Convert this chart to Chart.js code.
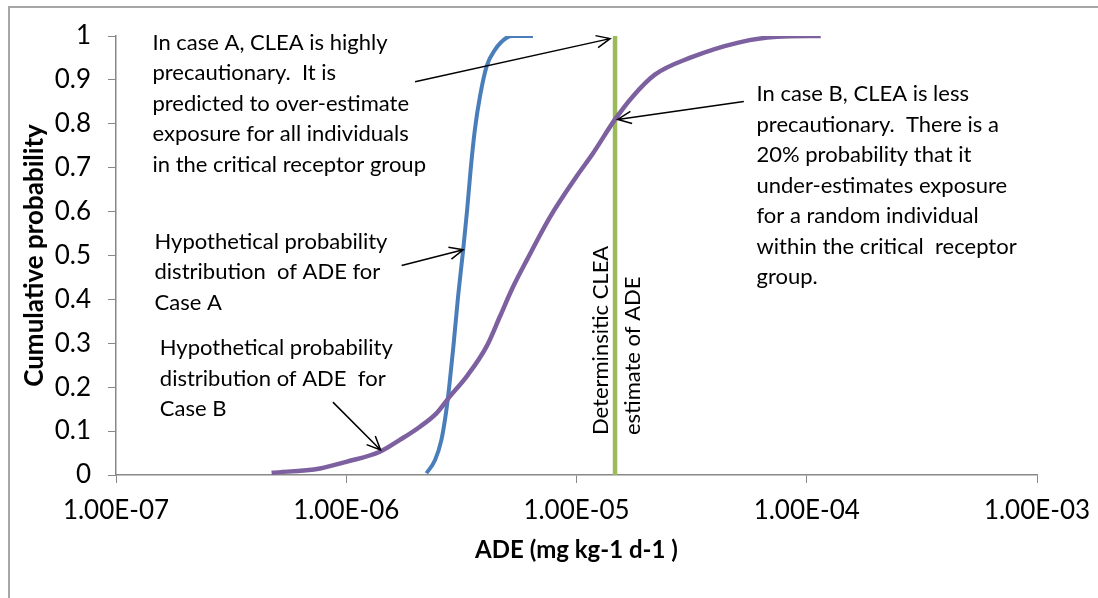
<!DOCTYPE html>
<html>
<head>
<meta charset="utf-8">
<script src="https://cdn.jsdelivr.net/npm/chart.js@4/dist/chart.umd.min.js"></script>
<style>
  html, body { margin: 0; padding: 0; background: #fff; overflow: hidden; }
  #wrap { position: relative; width: 1098px; height: 598px; }
  #frame { position: absolute; left: 8px; top: 6px; width: 1200px; height: 700px;
           border: 2px solid #a6a6a6; box-sizing: border-box; }
  #chart { position: absolute; left: 0; top: 0; }
</style>
</head>
<body>
<div id="wrap">
  <div id="frame"></div>
  <canvas id="chart" width="1098" height="598"></canvas>
</div>
<script>
// ---------- Data ----------
// Case A (blue) cumulative distribution
const caseA_ade  = [2.23e-6, 2.43e-6, 2.59e-6, 2.71e-6, 2.80e-6, 2.92e-6, 3.06e-6, 3.22e-6,
                    3.35e-6, 3.47e-6, 3.62e-6, 3.81e-6, 4.07e-6, 4.43e-6, 4.97e-6, 5.30e-6, 6.47e-6];
const caseA_prob = [0.004, 0.034, 0.08, 0.141, 0.201, 0.293, 0.407, 0.513,
                    0.604, 0.696, 0.787, 0.863, 0.931, 0.969, 0.996, 1.0, 1.0];

// Case B (purple) cumulative distribution
const caseB_ade  = [4.74e-7, 7.69e-7, 1.00e-6, 1.40e-6, 1.71e-6, 2.09e-6, 2.47e-6, 2.82e-6,
                    3.33e-6, 4.07e-6, 4.65e-6, 5.23e-6, 6.09e-6, 7.66e-6, 1.00e-5,
                    1.18e-5, 1.47e-5, 1.76e-5, 2.19e-5, 3.10e-5, 5.05e-5, 7.41e-5, 1.15e-4];
const caseB_prob = [0.005, 0.015, 0.030, 0.053, 0.080, 0.110, 0.141, 0.179,
                    0.224, 0.293, 0.361, 0.422, 0.49, 0.587, 0.68,
                    0.733, 0.81, 0.863, 0.912, 0.95, 0.985, 0.998, 1.0];

// Deterministic CLEA estimate (green vertical line)
const cleaEstimate = 1.47e-5;

// Axis ticks
const xTickValues = [1e-7, 1e-6, 1e-5, 1e-4, 1e-3];
const xTickLabels = ["1.00E-07", "1.00E-06", "1.00E-05", "1.00E-04", "1.00E-03"];
const yTickLabels = ["0", "0.1", "0.2", "0.3", "0.4", "0.5", "0.6", "0.7", "0.8", "0.9", "1"];

// ---------- Annotations (anchored in data units) ----------
const notes = [
  { x: 1.44e-7, y: 0.985, lines: ["In case A, CLEA is highly", "precautionary.  It is",
      "predicted to over-estimate", "exposure for all individuals", "in the critical receptor group"] },
  { x: 1.47e-7, y: 0.532, lines: ["Hypothetical probability", "distribution  of ADE for", "Case A"] },
  { x: 1.55e-7, y: 0.289, lines: ["Hypothetical probability", "distribution of ADE  for", "Case B"] },
  { x: 6.05e-5, y: 0.867, lines: ["In case B, CLEA is less", "precautionary.  There is a",
      "20% probability that it", "under-estimates exposure", "for a random individual",
      "within the critical  receptor", "group."] },
  { x: 1.28e-5, y: 0.091, rotate: true, lines: ["Determinsitic CLEA", "estimate of ADE"] }
];

const arrows = [
  { from: [1.99e-6, 0.896], to: [1.40e-5, 0.994] },
  { from: [1.74e-6, 0.477], to: [3.22e-6, 0.513] },
  { from: [8.75e-7, 0.166], to: [1.41e-6, 0.057] },
  { from: [5.33e-5, 0.851], to: [1.51e-5, 0.81] }
];

const FONT = "Lato, 'Open Sans', sans-serif";
const LINE_GAP = 30.5;

const toPoints = (xs, ys) => xs.map((x, i) => ({ x: x, y: ys[i] }));

// ---------- Plugin: text notes + arrows ----------
const notesPlugin = {
  id: "notes",
  afterDatasetsDraw(chart) {
    const ctx = chart.ctx;
    const sx = chart.scales.x, sy = chart.scales.y;
    ctx.save();
    ctx.fillStyle = "#000";
    ctx.font = "22px " + FONT;
    ctx.textBaseline = "middle";
    ctx.textAlign = "left";
    notes.forEach(n => {
      const px = sx.getPixelForValue(n.x);
      const py = sy.getPixelForValue(n.y);
      if (n.rotate) {
        ctx.save();
        ctx.translate(px, py);
        ctx.rotate(-Math.PI / 2);
        n.lines.forEach((t, i) => ctx.fillText(t, 0, i * 32));
        ctx.restore();
      } else {
        n.lines.forEach((t, i) => ctx.fillText(t, px, py + i * LINE_GAP));
      }
    });

    ctx.strokeStyle = "#000";
    ctx.lineWidth = 1.5;
    arrows.forEach(a => {
      const x1 = sx.getPixelForValue(a.from[0]), y1 = sy.getPixelForValue(a.from[1]);
      const x2 = sx.getPixelForValue(a.to[0]),   y2 = sy.getPixelForValue(a.to[1]);
      const ang = Math.atan2(y2 - y1, x2 - x1);
      const head = 15, spread = 0.42;
      ctx.beginPath();
      ctx.moveTo(x1, y1);
      ctx.lineTo(x2, y2);
      ctx.moveTo(x2 - head * Math.cos(ang - spread), y2 - head * Math.sin(ang - spread));
      ctx.lineTo(x2, y2);
      ctx.lineTo(x2 - head * Math.cos(ang + spread), y2 - head * Math.sin(ang + spread));
      ctx.stroke();
    });
    ctx.restore();
  }
};

// ---------- Chart ----------
Chart.defaults.font.family = FONT;
Chart.defaults.color = "#000";

new Chart(document.getElementById("chart").getContext("2d"), {
  type: "line",
  data: {
    datasets: [
      {
        label: "Case B",
        data: toPoints(caseB_ade, caseB_prob),
        borderColor: "#7d60a0",
        borderWidth: 4.5,
        pointRadius: 0,
        cubicInterpolationMode: "monotone"
      },
      {
        label: "Case A",
        data: toPoints(caseA_ade, caseA_prob),
        borderColor: "#4a7ebb",
        borderWidth: 4,
        pointRadius: 0,
        cubicInterpolationMode: "monotone"
      },
      {
        label: "CLEA",
        data: [{ x: cleaEstimate, y: 0 }, { x: cleaEstimate, y: 1 }],
        borderColor: "#9bbb59",
        borderWidth: 4.5,
        pointRadius: 0
      }
    ]
  },
  options: {
    responsive: false,
    animation: false,
    layout: { padding: { left: 0, top: 36, right: 61, bottom: 0 } },
    plugins: { legend: { display: false }, tooltip: { enabled: false } },
    scales: {
      x: {
        type: "logarithmic",
        min: 1e-7,
        max: 1e-3,
        afterBuildTicks: axis => { axis.ticks = xTickValues.map(v => ({ value: v })); },
        afterFit: axis => {
          axis.height = 123;
          axis.paddingLeft = 0;
          axis.paddingRight = 0;
        },
        ticks: {
          autoSkip: false,
          maxRotation: 0,
          padding: 12,
          font: { size: 26 },
          callback: (v, i) => xTickLabels[i]
        },
        grid: { drawOnChartArea: false, drawTicks: true, tickLength: 8, color: "#888" },
        border: { display: true, color: "#888", width: 1.5 },
        title: {
          display: true,
          text: "ADE (mg kg-1 d-1 )",
          font: { size: 24, weight: "bold" },
          padding: { top: 0, bottom: 33 }
        }
      },
      y: {
        min: 0,
        max: 1,
        afterFit: axis => {
          axis.width = 116;
          axis.paddingTop = 0;
          axis.paddingBottom = 0;
        },
        ticks: {
          stepSize: 0.1,
          padding: 17,
          font: { size: 26 },
          callback: (v, i) => yTickLabels[i]
        },
        grid: { drawOnChartArea: false, drawTicks: true, tickLength: 8, color: "#888" },
        border: { display: true, color: "#888", width: 1.5 },
        title: {
          display: true,
          text: "Cumulative probability",
          font: { size: 26, weight: "bold" },
          padding: { top: 19, bottom: 0 }
        }
      }
    }
  },
  plugins: [notesPlugin]
});
</script>
</body>
</html>
